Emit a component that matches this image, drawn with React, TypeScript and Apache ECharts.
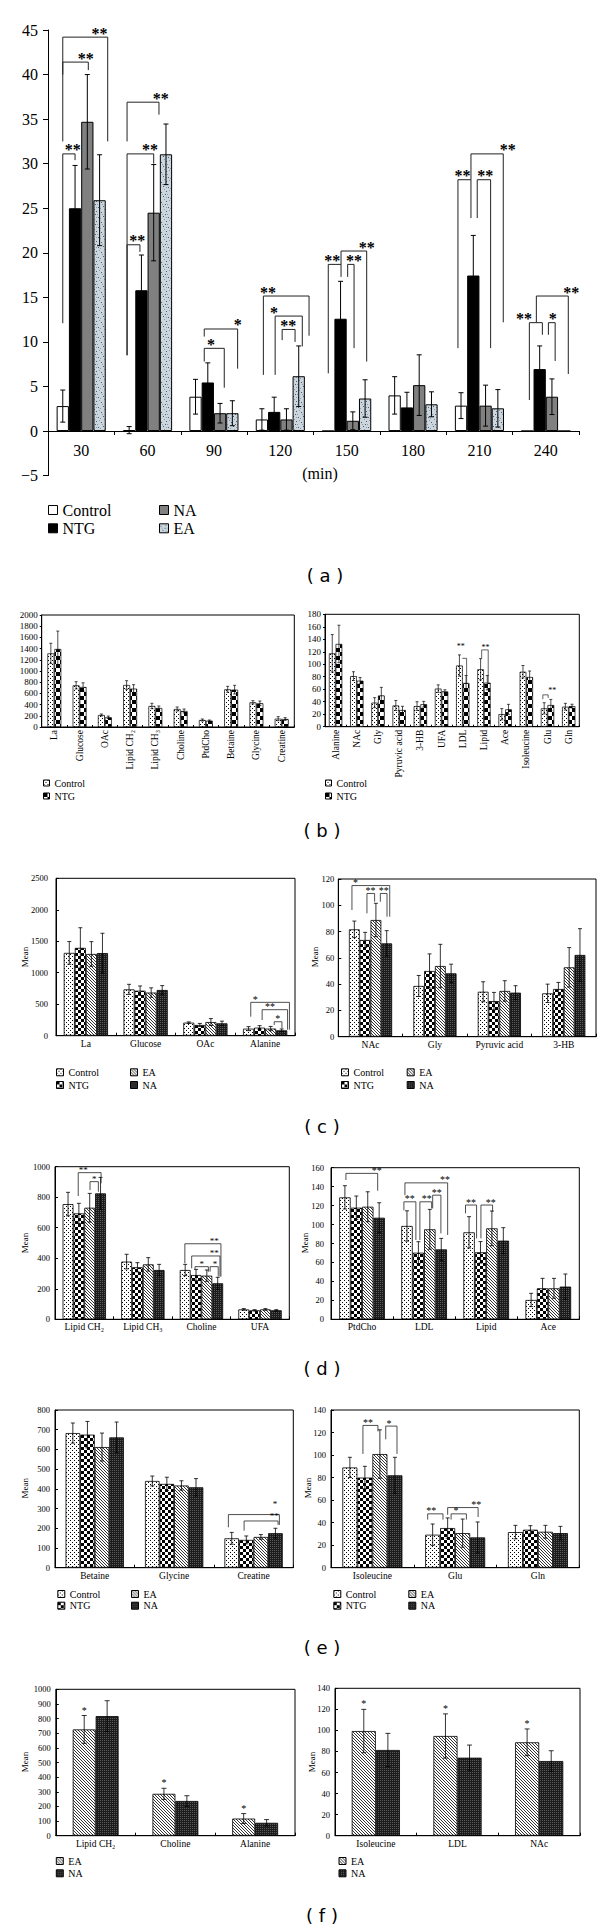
import React, { useEffect, useRef } from "react";
import * as echarts from "echarts";

const SERIF = '"Liberation Serif", "Times New Roman", serif';
const SANS = '"DejaVu Sans", sans-serif';

/* ---------------- (a) ---------------- */
const aTimes = ["30", "60", "90", "120", "150", "180", "210", "240"];
const aControl = [2.8, 0.1, 3.85, 1.3, 0, 4.0, 2.85, 0];
const aControlErr = [1.8, 0.4, 1.95, 1.2, 0, 2.1, 1.45, 0];
const aNTG = [25.0, 15.8, 5.45, 2.15, 12.6, 2.65, 17.45, 6.95];
const aNTGErr = [4.8, 3.95, 2.2, 1.65, 4.2, 1.7, 4.5, 2.6];
const aNA = [34.7, 24.5, 2.0, 1.3, 1.15, 5.15, 2.85, 3.85];
const aNAErr = [5.3, 5.4, 1.1, 1.2, 1.0, 3.4, 2.3, 2.0];
const aEA = [25.9, 31.05, 2.0, 6.15, 3.65, 3.0, 2.55, 0];
const aEAErr = [5.1, 3.4, 1.4, 3.4, 2.1, 1.4, 2.1, 0];
// [category, left bar, right bar, top, left foot, right foot, label, label bar, label value]
const aBrackets: any[] = [
  [0, 0, 3.66, 44.2, 32.5, 32.5, "**", 3.0],
  [0, 0, 2.08, 41.4, 40.0, 40.5, "**", 1.87],
  [0, 0, 1.0, 31.1, 12.1, 30.4, "**", 0.81],
  [1, -0.17, 2.43, 36.9, 32.5, 35.5, "**", 2.57],
  [1, -0.17, 2.0, 31.1, 8.5, 30.0, "**", 1.7],
  [1, -0.17, 0.88, 20.9, 8.5, 20.1, "**", 0.66],
  [2, 0.71, 3.43, 11.45, 10.6, 7.0, "*", 3.43],
  [2, 0.71, 2.34, 9.28, 7.8, 4.86, "*", 1.26],
  [3, 0.12, 3.84, 15.15, 6.3, 10.7, "**", 0.5],
  [3, 1.08, 3.29, 12.9, 6.3, 9.5, "*", 0.99],
  [3, 1.65, 2.7, 11.4, 10.2, 10.0, "**", 2.14],
  [4, 0.0, 1.04, 18.7, 6.47, 17.3, "**", 0.33],
  [4, 1.04, 3.13, 20.2, 18.7, 7.8, "**", 3.13],
  [4, 1.58, 2.1, 18.7, 17.3, 9.3, "**", 2.1],
  [6, -0.25, 0.81, 28.2, 9.3, 23.9, "**", 0.13],
  [6, 0.81, 3.44, 31.1, 28.2, 12.2, "**", 3.8],
  [6, 1.32, 2.41, 28.2, 23.9, 9.3, "**", 1.97],
  [7, 0.16, 1.22, 12.16, 3.48, 10.8, "**", -0.27],
  [7, 0.73, 3.33, 15.15, 12.16, 6.4, "**", 3.58],
  [7, 1.71, 2.26, 12.16, 10.8, 7.86, "*", 2.06],
];

/* ---------------- (b) ---------------- */
const bCats1 = ["La", "Glucose", "OAc", "Lipid CH\u2082", "Lipid CH\u2083", "Choline", "PtdCho", "Betaine", "Glycine", "Creatine"];
const bControl1 = [1315, 744, 214, 750, 375, 321, 125, 673, 440, 149];
const bControl1Err = [180, 65, 18, 77, 48, 36, 18, 53, 30, 36];
const bNTG1 = [1393, 714, 173, 685, 339, 286, 113, 667, 423, 143];
const bNTG1Err = [320, 75, 22, 71, 36, 35, 12, 77, 41, 24];
const bCats2 = ["Alanine", "NAc", "Gly", "Pyruvic acid", "3-HB", "UFA", "LDL", "Lipid", "Ace", "Isoleucine", "Glu", "Gln"];
const bControl2 = [117.5, 81, 38.5, 34, 33, 61, 98, 92, 20, 88, 29.4, 32];
const bControl2Err = [30, 7, 8, 8, 7, 6, 17, 17, 9, 10, 9, 5.4];
const bNTG2 = [132.5, 73.7, 50, 26.7, 36, 56.6, 70, 70.5, 27.8, 79.6, 34.7, 33];
const bNTG2Err = [30, 5, 13, 6, 4.6, 2.5, 12, 11.5, 8, 9.6, 9, 3];
const bBrackets2: any[] = [
  [6, 0.43, 1.08, 109.5, 109.5, 69.4, "**", 0.19, 126],
  [7, 0.16, 1.14, 123, 109.5, 69.4, "**", 0.75, 124],
  [10, -0.2, 0.6, 51, 44, 46, "**", 1.22, 55],
];

/* ---------------- (c) ---------------- */
const cCats1 = ["La", "Glucose", "OAc", "Alanine"];
const cControl1 = [1315, 736, 207, 112];
const cControl1Err = [180, 80, 12, 32];
const cNTG1 = [1395, 715, 170, 128];
const cNTG1Err = [320, 75, 25, 32];
const cEA1 = [1298, 685, 217, 113];
const cEA1Err = [196, 75, 55, 34];
const cNA1 = [1312, 726, 196, 85];
const cNA1Err = [315, 70, 35, 22];
const cBrackets1: any[] = [
  [3, 0.2, 3.7, 530, 302, 95, "*", 0.6],
  [3, 1.23, 3.53, 413, 249, 95, "**", 1.95],
  [3, 2.32, 3.02, 222, 170, 117, "*", 2.65],
];
const cCats2 = ["NAc", "Gly", "Pyruvic acid", "3-HB"];
const cControl2 = [81.7, 38.6, 34.2, 33];
const cControl2Err = [6.3, 8, 7.6, 7];
const cNTG2 = [73.6, 50, 27.1, 36.3];
const cNTG2Err = [5.8, 13, 6.6, 5];
const cEA2 = [88.8, 53.8, 34.8, 52.8];
const cEA2Err = [12.7, 16.5, 7.8, 15];
const cNA2 = [71, 48.2, 33.5, 62.2];
const cNA2Err = [9.7, 7, 5.3, 20];
const cBrackets2: any[] = [
  [0, -0.22, 3.28, 115, 96.4, 91.3, "*", 0.11],
  [0, 1.17, 1.88, 109, 93.9, 102.7, "**", 1.51],
  [0, 2.41, 3.03, 109, 102.7, 91.3, "**", 2.72],
];

/* ---------------- (d) ---------------- */
const dCats1 = ["Lipid CH\u2082", "Lipid CH\u2083", "Choline", "UFA"];
const dControl1 = [755, 378, 323, 65];
const dControl1Err = [77, 48, 37, 5];
const dNTG1 = [694, 341, 290, 59];
const dNTG1Err = [66, 30, 37, 4];
const dEA1 = [731, 360, 286, 65];
const dEA1Err = [94, 44, 37, 5];
const dNA1 = [825, 323, 236, 59];
const dNA1Err = [105, 37, 39, 4];
const dBrackets1: any[] = [
  [0, 0.94, 3.05, 961, 808, 891, "**", 1.41],
  [0, 2.03, 2.8, 902, 847, 836, "*", 2.43],
  [2, -0.03, 3.3, 495, 367, 280, "**", 2.68],
  [2, 0.6, 3.21, 415, 334, 280, "**", 2.68],
  [2, 0.91, 2.14, 345, 330, 312, "*", 1.52],
  [2, 2.3, 3.05, 345, 312, 280, "*", 2.75],
];
const dCats2 = ["PtdCho", "LDL", "Lipid", "Ace"];
const dControl2 = [128.7, 98.5, 91.8, 20.4];
const dControl2Err = [12.3, 16, 16.5, 7];
const dNTG2 = [117.8, 70.3, 70.7, 32.7];
const dNTG2Err = [12.3, 11.6, 11.3, 10.5];
const dEA2 = [118.8, 95, 96, 32.7];
const dEA2Err = [15.8, 21, 18.3, 10.5];
const dNA2 = [107.2, 73.8, 83, 34.5];
const dNA2Err = [15.8, 11.6, 13.7, 13.3];
const dBrackets2: any[] = [
  [0, 0.09, 2.87, 154, 147, 135.7, "**", 2.78],
  [1, -0.18, 3.56, 144, 131, 89, "**", 3.32],
  [1, -0.27, 0.78, 124, 115, 83.7, "**", 0.25],
  [1, 1.13, 2.16, 124, 83.7, 117, "**", 1.72],
  [1, 2.25, 2.97, 131, 117, 90.7, "**", 2.6],
  [2, -0.31, 0.66, 120.6, 111.8, 85.4, "**", 0.16],
  [2, 1.04, 2.06, 120.6, 85.4, 113.6, "**", 1.9],
];

/* ---------------- (e) ---------------- */
const eCats1 = ["Betaine", "Glycine", "Creatine"];
const eControl1 = [683, 440, 149];
const eControl1Err = [51, 25, 30];
const eNTG1 = [675, 425, 141];
const eNTG1Err = [67, 34, 20];
const eEA1 = [612, 417, 156];
const eEA1Err = [71, 24, 12];
const eNA1 = [661, 408, 175];
const eNA1Err = [78, 44, 25];
const eBrackets1: any[] = [
  [2, -0.23, 3.27, 269.5, 205, 217, "*", 2.97, 308],
  [2, 0.85, 3.18, 237, 188, 217, "**", 2.92, 245],
];
const eCats2 = ["Isoleucine", "Glu", "Gln"];
const eControl2 = [89, 29.3, 31.6];
const eControl2Err = [9, 9.5, 6];
const eNTG2 = [80, 35.2, 33.7];
const eNTG2Err = [10, 9, 3.6];
const eEA2 = [100.9, 30.7, 31.9];
const eEA2Err = [21.5, 12.5, 5.7];
const eNA2 = [82, 26.9, 30.7];
const eNA2Err = [16, 13.7, 6];
const eBrackets2: any[] = [
  [0, 0.87, 1.87, 126.3, 101, 121, "**", 1.2],
  [0, 2.39, 3.14, 125.7, 114, 101, "*", 2.6],
  [1, -0.33, 0.69, 47.8, 42.7, 42.7, "**", -0.1],
  [1, 1.0, 3.03, 53.4, 47, 45, "**", 2.9],
  [1, 1.23, 2.25, 47.8, 42.7, 42.7, "*", 1.56],
];

/* ---------------- (f) ---------------- */
const fCats1 = ["Lipid CH\u2082", "Choline", "Alanine"];
const fEA1 = [726, 286, 117];
const fEA1Err = [95, 38, 34];
const fNA1 = [817, 237, 88];
const fNA1Err = [105, 36, 22];
const fStars1 = [[0, 0], [1, 0], [2, 0]];
const fCats2 = ["Isoleucine", "LDL", "NAc"];
const fEA2 = [99.4, 94.7, 88.7];
const fEA2Err = [20.6, 21, 12.7];
const fNA2 = [81.4, 74.1, 70.9];
const fNA2Err = [15.8, 12, 9.8];
const fStars2 = [[0, 0], [1, 0], [2, 0]];

/* ---------------- patterns ---------------- */
let patternCache: any = null;
function tile(w: number, h: number, bg: string, pts: any[]) {
  const c = document.createElement("canvas");
  c.width = w;
  c.height = h;
  const ctx = c.getContext("2d") as CanvasRenderingContext2D;
  ctx.fillStyle = bg;
  ctx.fillRect(0, 0, w, h);
  pts.forEach((p) => {
    ctx.fillStyle = p[4] || "#000";
    ctx.fillRect(p[0], p[1], p[2] || 1, p[3] || 1);
  });
  return { image: c, repeat: "repeat", imageWidth: w, imageHeight: h };
}
function getPatterns() {
  if (patternCache) return patternCache;
  const dk = "#4d5d6b";
  const md = "#8a9ba8";
  patternCache = {
    dots: tile(4, 4, "#ffffff", [[0, 0], [2, 2]]),
    checker: tile(6, 6, "#ffffff", [[0, 0, 3, 3], [3, 3, 3, 3]]),
    hatch: tile(3, 3, "#ffffff", [[0, 0, 1, 1, "#333"], [1, 1, 1, 1, "#333"], [2, 2, 1, 1, "#333"]]),
    dark: tile(2, 2, "#1c1c1c", [[0, 0, 1, 1, "#5a5a5a"]]),
    bChecker: tile(8, 8, "#ffffff", [[0, 0, 4, 4], [4, 4, 4, 4]]),
    speckle: tile(10, 10, "#cbd6de", [
      [1, 2, 1, 1, dk], [6, 1, 1, 1, dk], [3, 6, 1, 1, dk], [8, 7, 1, 1, dk], [5, 4, 1, 1, dk],
      [0, 8, 1, 1, md], [7, 4, 1, 1, md], [4, 9, 1, 1, md], [9, 0, 1, 1, md], [2, 4, 1, 1, md], [6, 7, 1, 1, md],
    ]),
  };
  return patternCache;
}

/* ---------------- builders ---------------- */
function errRender(n: number, gap: number, capHalf: number, lw: number, starFont: number) {
  return (params: any, api: any) => {
    const c = api.value(0);
    const s = api.value(1);
    const v = api.value(2);
    const e = api.value(3);
    const star = api.value(4);
    const bw = api.size([1, 0])[0];
    const barW = (bw * (1 - gap)) / n;
    const p = api.coord([c, v]);
    const x = p[0] + (s - (n - 1) / 2) * barW;
    const children: any[] = [];
    let yTop = p[1];
    if (e > 0) {
      yTop = api.coord([c, v + e])[1];
      const yBot = api.coord([c, v - e])[1];
      const st = { stroke: "#000", lineWidth: lw };
      children.push({ type: "line", shape: { x1: x, y1: yTop, x2: x, y2: yBot }, style: st });
      children.push({ type: "line", shape: { x1: x - capHalf, y1: yTop, x2: x + capHalf, y2: yTop }, style: st });
      children.push({ type: "line", shape: { x1: x - capHalf, y1: yBot, x2: x + capHalf, y2: yBot }, style: st });
    }
    if (star) {
      children.push({
        type: "text",
        x: x,
        y: yTop - starFont * 0.55,
        style: { text: "*", font: `${starFont}px ${SERIF}`, fill: "#000", align: "center", verticalAlign: "middle" },
      });
    }
    return { type: "group", children };
  };
}

function bracketRender(list: any[], n: number, gap: number, lw: number, font: number, dy: number, weight: string) {
  return (params: any, api: any) => {
    const b = list[params.dataIndex];
    const c = b[0];
    const bw = api.size([1, 0])[0];
    const barW = (bw * (1 - gap)) / n;
    const p = api.coord([c, b[3]]);
    const X = (i: number) => p[0] + (i - (n - 1) / 2) * barW;
    const yL = api.coord([c, b[4]])[1];
    const yR = api.coord([c, b[5]])[1];
    const yLab = api.coord([c, b[8] != null ? b[8] : b[3]])[1];
    return {
      type: "group",
      children: [
        {
          type: "polyline",
          shape: { points: [[X(b[1]), yL], [X(b[1]), p[1]], [X(b[2]), p[1]], [X(b[2]), yR]] },
          style: { stroke: "#222", fill: "none", lineWidth: lw },
        },
        {
          type: "text",
          x: X(b[7]),
          y: yLab - dy,
          style: { text: b[6], font: `${weight} ${font}px ${SERIF}`, fill: "#000", align: "center", verticalAlign: "middle" },
        },
      ],
    };
  };
}

function buildOption(grids: any[], legend: any[], graphic: any[]) {
  const option: any = {
    animation: false,
    textStyle: { fontFamily: SERIF },
    grid: [],
    xAxis: [],
    yAxis: [],
    series: [],
    legend,
    graphic,
  };
  grids.forEach((g: any, gi: number) => {
    option.grid.push({
      left: g.left, top: g.top, width: g.width, height: g.height,
      show: g.boxed, borderColor: "#000", borderWidth: 1, backgroundColor: "transparent",
    });
    option.xAxis.push({
      type: "category", gridIndex: gi, data: g.cats, offset: g.xOffset || 0,
      axisLine: { show: true, onZero: false, lineStyle: { color: "#000", width: 1 } },
      axisTick: { show: true, length: g.xTick.length, inside: g.xTick.inside, lineStyle: { color: "#000" } },
      axisLabel: {
        color: "#000", fontFamily: SERIF, fontSize: g.catFont, margin: g.xLabelMargin,
        rotate: g.rotate || 0, interval: 0,
      },
      splitLine: { show: false },
    });
    option.yAxis.push({
      type: "value", gridIndex: gi, min: g.yMin, max: g.yMax, interval: g.yInterval,
      axisLine: { show: true, lineStyle: { color: "#000", width: 1 } },
      axisTick: { show: true, length: g.yTick.length, inside: g.yTick.inside, lineStyle: { color: "#000" } },
      axisLabel: {
        color: "#000", fontFamily: SERIF, fontSize: g.tickFont, margin: g.yLabelMargin,
        formatter: g.yFormatter || ((v: number) => String(v)),
      },
      splitLine: { show: false },
    });
    const n = g.series.length;
    g.series.forEach((s: any) => {
      option.series.push({
        type: "bar", name: s.name, xAxisIndex: gi, yAxisIndex: gi, data: s.data,
        barGap: "0%", barCategoryGap: g.gap * 100 + "%",
        itemStyle: { color: s.color, borderColor: "#000", borderWidth: g.lineW },
        silent: true, emphasis: { disabled: true },
      });
    });
    const errData: any[] = [];
    g.series.forEach((s: any, si: number) => {
      s.data.forEach((v: number, ci: number) => {
        const star = (g.stars || []).some((p: number[]) => p[0] === ci && p[1] === si) ? 1 : 0;
        errData.push([ci, si, v, s.err[ci], star]);
      });
    });
    option.series.push({
      type: "custom", xAxisIndex: gi, yAxisIndex: gi, data: errData, encode: { x: 0, y: 2 },
      silent: true, z: 5, clip: false, itemStyle: { color: "#000" },
      renderItem: errRender(n, g.gap, g.capHalf, g.lineW, g.starFont),
    });
    if (g.brackets) {
      option.series.push({
        type: "custom", xAxisIndex: gi, yAxisIndex: gi,
        data: g.brackets.map((b: any[]) => [b[0], b[3]]), encode: { x: 0, y: 1 },
        silent: true, z: 6, clip: false, itemStyle: { color: "#000" },
        renderItem: bracketRender(g.brackets, n, g.gap, g.bracketW, g.starFont, g.starDy, g.starWeight || "normal"),
      });
    }
  });
  return option;
}

function legendComp(left: number, top: number, names: string[], fontSize: number, icon: number, gap: number) {
  return {
    orient: "vertical", left, top, padding: 0, itemWidth: icon, itemHeight: icon, itemGap: gap,
    icon: "rect", data: names, selectedMode: false,
    itemStyle: { borderColor: "#000", borderWidth: 1 },
    textStyle: { fontFamily: SERIF, fontSize, color: "#000" },
  };
}

function caption(x: number, y: number, t: string) {
  return {
    type: "text", x, y,
    style: { text: t, font: `18px ${SANS}`, fill: "#000", align: "center", verticalAlign: "middle", textAlign: "center", textVerticalAlign: "middle" },
  };
}
function meanLabel(x: number, y: number) {
  return {
    type: "text", x, y, rotation: Math.PI / 2,
    style: { text: "Mean", font: `9px ${SERIF}`, fill: "#000", align: "center", verticalAlign: "middle", textAlign: "center", textVerticalAlign: "middle" },
  };
}

const small = {
  boxed: true, tickFont: 8.5, catFont: 9.5, starFont: 10, starDy: 3, capHalf: 2, lineW: 0.8, bracketW: 0.8,
  yLabelMargin: 6, xLabelMargin: 3, yTick: { length: 3, inside: true }, xTick: { length: 3, inside: true },
};

function four(P: any, c: number[], ce: number[], t: number[], te: number[], e: number[], ee: number[], a: number[], ae: number[]) {
  return [
    { name: "Control", data: c, err: ce, color: P.dots },
    { name: "NTG", data: t, err: te, color: P.checker },
    { name: "EA", data: e, err: ee, color: P.hatch },
    { name: "NA", data: a, err: ae, color: P.dark },
  ];
}

function buildA() {
  const P = getPatterns();
  const g = {
    left: 48, top: 30, width: 531, height: 445.6, cats: aTimes, yMin: -5, yMax: 45, yInterval: 5, gap: 0.26,
    series: [
      { name: "Control", data: aControl, err: aControlErr, color: "#ffffff" },
      { name: "NTG", data: aNTG, err: aNTGErr, color: "#000000" },
      { name: "NA", data: aNA, err: aNAErr, color: "#808080" },
      { name: "EA", data: aEA, err: aEAErr, color: P.speckle },
    ],
    brackets: aBrackets, boxed: false, tickFont: 16, catFont: 16, starFont: 16, starDy: 4, starWeight: "bold", capHalf: 2.5,
    lineW: 1, bracketW: 1, yLabelMargin: 10, xLabelMargin: 11, xOffset: -44.6,
    yTick: { length: 5, inside: false }, xTick: { length: 4, inside: false },
    yFormatter: (v: number) => (v < 0 ? "\u2212" + Math.abs(v) : String(v)),
  };
  return buildOption(
    [g],
    [legendComp(48, 502, ["Control", "NTG"], 16, 9, 2.3), legendComp(159, 502, ["NA", "EA"], 16, 9, 2.3)],
    [
      { type: "text", x: 320, y: 473, style: { text: "(min)", font: `16px ${SERIF}`, fill: "#000", align: "center", verticalAlign: "middle", textAlign: "center", textVerticalAlign: "middle" } },
      caption(325, 575, "( a )"),
    ]
  );
}

function buildB() {
  const P = getPatterns();
  const common = {
    boxed: true, tickFont: 9, catFont: 9.5, starFont: 8, starDy: 2, capHalf: 1.5, lineW: 0.7, bracketW: 0.7,
    yLabelMargin: 4, xLabelMargin: 3, rotate: 90, yTick: { length: 2, inside: false }, xTick: { length: 2, inside: true },
  };
  const g1 = {
    ...common, left: 41.7, top: 15, width: 252.6, height: 112, cats: bCats1, yMin: 0, yMax: 2000, yInterval: 200, gap: 0.45,
    series: [
      { name: "Control", data: bControl1, err: bControl1Err, color: P.dots },
      { name: "NTG", data: bNTG1, err: bNTG1Err, color: P.bChecker },
    ],
  };
  const g2 = {
    ...common, left: 325, top: 14.3, width: 254.3, height: 112.4, cats: bCats2, yMin: 0, yMax: 180, yInterval: 20, gap: 0.37,
    series: [
      { name: "Control", data: bControl2, err: bControl2Err, color: P.dots },
      { name: "NTG", data: bNTG2, err: bNTG2Err, color: P.bChecker },
    ],
    brackets: bBrackets2,
  };
  return buildOption(
    [g1, g2],
    [legendComp(43, 178, ["Control", "NTG"], 10, 6, 3), legendComp(325, 178, ["Control", "NTG"], 10, 6, 3)],
    [caption(322, 230, "( b )")]
  );
}

function buildC() {
  const P = getPatterns();
  const g1 = {
    ...small, left: 56, top: 18.3, width: 239, height: 157.4, cats: cCats1, yMin: 0, yMax: 2500, yInterval: 500, gap: 0.26,
    series: four(P, cControl1, cControl1Err, cNTG1, cNTG1Err, cEA1, cEA1Err, cNA1, cNA1Err), brackets: cBrackets1, yLabelMargin: 8,
  };
  const g2 = {
    ...small, left: 338.3, top: 19, width: 257.7, height: 157.7, cats: cCats2, yMin: 0, yMax: 120, yInterval: 20, gap: 0.33,
    series: four(P, cControl2, cControl2Err, cNTG2, cNTG2Err, cEA2, cEA2Err, cNA2, cNA2Err), brackets: cBrackets2, yLabelMargin: 4,
  };
  return buildOption(
    [g1, g2],
    [
      legendComp(56, 207.3, ["Control", "NTG"], 10, 7, 2.7),
      legendComp(130, 207.3, ["EA", "NA"], 10, 7, 2.7),
      legendComp(341, 207.3, ["Control", "NTG"], 10, 7, 2.7),
      legendComp(406.7, 207.3, ["EA", "NA"], 10, 7, 2.7),
    ],
    [meanLabel(25, 97), meanLabel(315, 97), caption(322, 266, "( c )")]
  );
}

function buildD() {
  const P = getPatterns();
  const g1 = {
    ...small, left: 55, top: 26.7, width: 234.3, height: 152.6, cats: dCats1, yMin: 0, yMax: 1000, yInterval: 200, gap: 0.26,
    series: four(P, dControl1, dControl1Err, dNTG1, dNTG1Err, dEA1, dEA1Err, dNA1, dNA1Err), brackets: dBrackets1, yLabelMargin: 5,
    starFont: 9,
  };
  const g2 = {
    ...small, left: 331, top: 27.7, width: 248.3, height: 151.6, cats: dCats2, yMin: 0, yMax: 160, yInterval: 20, gap: 0.264,
    series: four(P, dControl2, dControl2Err, dNTG2, dNTG2Err, dEA2, dEA2Err, dNA2, dNA2Err), brackets: dBrackets2, yLabelMargin: 7,
  };
  return buildOption([g1, g2], [], [meanLabel(25, 103), meanLabel(305, 103), caption(322, 228, "( d )")]);
}

function buildE() {
  const P = getPatterns();
  const g1 = {
    ...small, left: 55, top: 20, width: 238.3, height: 157.7, cats: eCats1, yMin: 0, yMax: 800, yInterval: 100, gap: 0.266,
    series: four(P, eControl1, eControl1Err, eNTG1, eNTG1Err, eEA1, eEA1Err, eNA1, eNA1Err), brackets: eBrackets1, yLabelMargin: 5,
    starFont: 9,
  };
  const g2 = {
    ...small, left: 331, top: 20, width: 248.3, height: 157.7, cats: eCats2, yMin: 0, yMax: 140, yInterval: 20, gap: 0.275,
    series: four(P, eControl2, eControl2Err, eNTG2, eNTG2Err, eEA2, eEA2Err, eNA2, eNA2Err), brackets: eBrackets2, yLabelMargin: 5,
  };
  return buildOption(
    [g1, g2],
    [
      legendComp(57.3, 199, ["Control", "NTG"], 10, 7, 1.7),
      legendComp(131, 199, ["EA", "NA"], 10, 7, 1.7),
      legendComp(333.3, 199, ["Control", "NTG"], 10, 7, 1.7),
      legendComp(408.3, 199, ["EA", "NA"], 10, 7, 1.7),
    ],
    [meanLabel(25, 98.3), meanLabel(308, 98), caption(322, 257, "( e )")]
  );
}

function buildF() {
  const P = getPatterns();
  const g1 = {
    ...small, left: 55.8, top: 19.3, width: 239.2, height: 146.4, cats: fCats1, yMin: 0, yMax: 1000, yInterval: 100, gap: 0.425,
    series: [
      { name: "EA", data: fEA1, err: fEA1Err, color: P.hatch },
      { name: "NA", data: fNA1, err: fNA1Err, color: P.dark },
    ],
    stars: fStars1, capHalf: 2.5, yLabelMargin: 5,
  };
  const g2 = {
    ...small, left: 335, top: 18.3, width: 245, height: 147.4, cats: fCats2, yMin: 0, yMax: 140, yInterval: 20, gap: 0.41,
    series: [
      { name: "EA", data: fEA2, err: fEA2Err, color: P.hatch },
      { name: "NA", data: fNA2, err: fNA2Err, color: P.dark },
    ],
    stars: fStars2, capHalf: 2.5, yLabelMargin: 5,
  };
  return buildOption(
    [g1, g2],
    [legendComp(55.8, 186, ["EA", "NA"], 10, 7, 2.3), legendComp(338.5, 186, ["EA", "NA"], 10, 7, 2.3)],
    [meanLabel(25, 92), meanLabel(312, 92), caption(322, 245, "( f )")]
  );
}

function Chart({ top, height, build }: any) {
  const ref = useRef<HTMLDivElement>(null);
  useEffect(() => {
    if (!ref.current) return;
    const chart = echarts.init(ref.current, null, { renderer: "svg" });
    chart.setOption(build());
    return () => chart.dispose();
  }, [build]);
  return <div ref={ref} style={{ position: "absolute", left: 0, top, width: 600, height }} />;
}

export default function App() {
  return (
    <div style={{ position: "absolute", left: 0, top: 0, width: 600, height: 1930, background: "#ffffff" }}>
      <Chart top={0} height={600} build={buildA} />
      <Chart top={600} height={260} build={buildB} />
      <Chart top={860} height={280} build={buildC} />
      <Chart top={1140} height={250} build={buildD} />
      <Chart top={1390} height={280} build={buildE} />
      <Chart top={1670} height={260} build={buildF} />
    </div>
  );
}
